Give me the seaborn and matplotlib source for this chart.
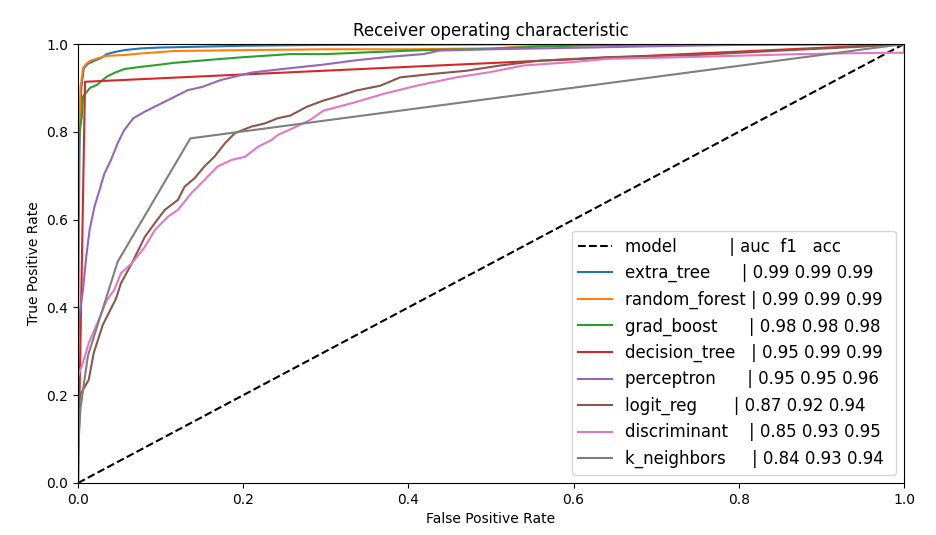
import matplotlib
matplotlib.use("Agg")
import matplotlib.pyplot as plt
import seaborn as sns
import pandas as pd

# ---- data ----
labels = [
    "model          | auc  f1   acc",
    "extra_tree      | 0.99 0.99 0.99 ",
    "random_forest | 0.99 0.99 0.99 ",
    "grad_boost      | 0.98 0.98 0.98 ",
    "decision_tree   | 0.95 0.99 0.99 ",
    "perceptron      | 0.95 0.95 0.96 ",
    "logit_reg       | 0.87 0.92 0.94 ",
    "discriminant    | 0.85 0.93 0.95 ",
    "k_neighbors     | 0.84 0.93 0.94 ",
]

diag_fpr = [0.0, 1.0]
diag_tpr = [0.0, 1.0]

extra_tree_fpr = [0, 0, 0.001, 0.002, 0.004, 0.007, 0.012, 0.02, 0.028, 0.035, 0.045, 0.056, 0.076, 0.1, 0.15, 0.2, 0.3, 0.45, 0.6, 1.0]
extra_tree_tpr = [0, 0.35, 0.6, 0.8, 0.9, 0.945, 0.955, 0.962, 0.968, 0.977, 0.982, 0.986, 0.99, 0.992, 0.994, 0.996, 0.998, 0.999, 1.0, 1.0]

random_forest_fpr = [0, 0, 0.001, 0.003, 0.006, 0.01, 0.015, 0.025, 0.035, 0.056, 0.08, 0.116, 0.2, 0.3, 0.4, 0.5, 0.55, 0.6, 0.8, 1.0]
random_forest_tpr = [0, 0.4, 0.75, 0.9, 0.945, 0.955, 0.962, 0.968, 0.973, 0.975, 0.979, 0.984, 0.986, 0.988, 0.988, 0.99, 0.995, 0.997, 0.999, 1.0]

grad_boost_fpr = [0, 0, 0.001, 0.002, 0.0045, 0.006, 0.0145, 0.023, 0.035, 0.045, 0.056, 0.076, 0.095, 0.116, 0.16, 0.2, 0.257, 0.3, 0.35, 0.418, 0.5, 0.556, 0.62, 0.7, 1.0]
grad_boost_tpr = [0, 0.6, 0.75, 0.8, 0.834, 0.88, 0.9, 0.907, 0.926, 0.935, 0.943, 0.948, 0.952, 0.957, 0.964, 0.970, 0.977, 0.977, 0.981, 0.986, 0.989, 0.994, 0.997, 1.0, 1.0]

decision_tree_fpr = [0, 0.0085, 1.0]
decision_tree_tpr = [0, 0.914, 1.0]

perceptron_fpr = [0, 0, 0.0016, 0.006, 0.010, 0.014, 0.020, 0.026, 0.032, 0.040, 0.048, 0.056, 0.067, 0.081, 0.097, 0.113, 0.133, 0.15, 0.173, 0.21, 0.257, 0.297, 0.337, 0.378, 0.418, 0.438, 0.5, 0.62, 0.7, 0.8, 1.0]
perceptron_tpr = [0, 0.3, 0.379, 0.44, 0.516, 0.576, 0.63, 0.667, 0.705, 0.736, 0.774, 0.804, 0.831, 0.846, 0.861, 0.876, 0.895, 0.902, 0.918, 0.935, 0.945, 0.953, 0.963, 0.971, 0.977, 0.985, 0.988, 0.992, 0.995, 0.998, 1.0]

logit_reg_fpr = [0, 0, 0.0024, 0.013, 0.019, 0.03, 0.046, 0.052, 0.065, 0.081, 0.093, 0.105, 0.121, 0.129, 0.141, 0.153, 0.165, 0.178, 0.19, 0.21, 0.226, 0.242, 0.257, 0.277, 0.297, 0.317, 0.337, 0.366, 0.39, 0.43, 0.47, 0.511, 0.559, 0.6, 0.64, 0.75, 0.85, 0.95, 1.0]
logit_reg_tpr = [0, 0.15, 0.2, 0.235, 0.296, 0.36, 0.42, 0.455, 0.50, 0.561, 0.592, 0.622, 0.645, 0.675, 0.694, 0.721, 0.743, 0.774, 0.797, 0.812, 0.819, 0.831, 0.837, 0.857, 0.871, 0.882, 0.894, 0.905, 0.924, 0.932, 0.939, 0.951, 0.962, 0.966, 0.97, 0.975, 0.985, 0.994, 1.0]

discriminant_fpr = [0, 0, 0.0024, 0.007, 0.013, 0.019, 0.027, 0.035, 0.044, 0.052, 0.065, 0.081, 0.093, 0.109, 0.121, 0.137, 0.153, 0.169, 0.186, 0.202, 0.218, 0.234, 0.242, 0.26, 0.281, 0.297, 0.337, 0.369, 0.41, 0.458, 0.499, 0.539, 0.6, 0.64, 0.753, 0.874, 0.975, 1.0, 1.0]
discriminant_tpr = [0, 0.24, 0.255, 0.28, 0.319, 0.345, 0.38, 0.417, 0.44, 0.478, 0.50, 0.538, 0.576, 0.607, 0.622, 0.660, 0.690, 0.721, 0.736, 0.743, 0.766, 0.781, 0.793, 0.808, 0.827, 0.848, 0.868, 0.886, 0.905, 0.924, 0.936, 0.951, 0.959, 0.966, 0.971, 0.977, 0.98, 0.98, 1.0]

k_neighbors_fpr = [0, 0, 0.003, 0.012, 0.048, 0.136, 1.0]
k_neighbors_tpr = [0, 0.07, 0.17, 0.29, 0.504, 0.785, 1.0]

colors = ["#1f77b4", "#ff7f0e", "#2ca02c", "#d62728", "#9467bd",
          "#8c564b", "#e377c2", "#7f7f7f"]

curves = [
    (extra_tree_fpr, extra_tree_tpr),
    (random_forest_fpr, random_forest_tpr),
    (grad_boost_fpr, grad_boost_tpr),
    (decision_tree_fpr, decision_tree_tpr),
    (perceptron_fpr, perceptron_tpr),
    (logit_reg_fpr, logit_reg_tpr),
    (discriminant_fpr, discriminant_tpr),
    (k_neighbors_fpr, k_neighbors_tpr),
]

fig = plt.figure(figsize=(9.37, 5.35), dpi=100)
ax = fig.add_axes([78 / 937, 1 - 483 / 535, 826 / 937, 439 / 535])

sns.lineplot(x=diag_fpr, y=diag_tpr, ax=ax, color="black", linestyle="--",
             label=labels[0], sort=False, estimator=None, linewidth=1.5)
for (fx, fy), lab, col in zip(curves, labels[1:], colors):
    df = pd.DataFrame({"fpr": fx, "tpr": fy})
    sns.lineplot(data=df, x="fpr", y="tpr", ax=ax, color=col, label=lab,
                 sort=False, estimator=None, linewidth=1.5)

ax.set_xlim(0, 1)
ax.set_ylim(0, 1)
ax.set_xlabel("False Positive Rate")
ax.set_ylabel("True Positive Rate")
ax.set_title("Receiver operating characteristic", fontsize=12)
ax.legend(loc="lower right", fontsize=12)

fig.savefig("out.png", dpi=100)
